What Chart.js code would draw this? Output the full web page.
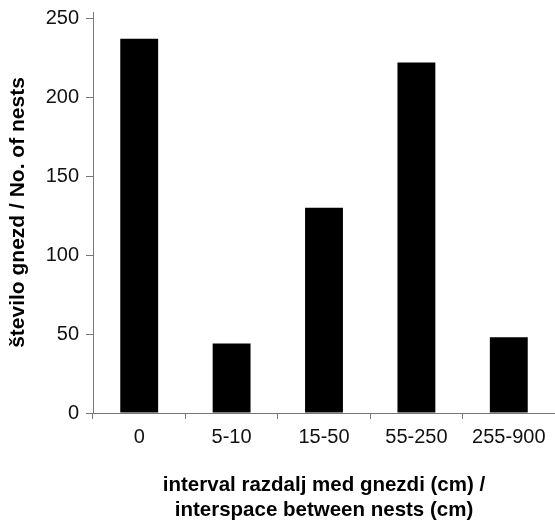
<!DOCTYPE html>
<html>
<head>
<meta charset="utf-8">
<script src="https://cdn.jsdelivr.net/npm/chart.js@4/dist/chart.umd.min.js"></script>
<style>
  html, body { margin: 0; padding: 0; background: #fff; }
  #wrap { width: 555px; height: 520px; }
</style>
</head>
<body>
<div id="wrap"><canvas id="chartCanvas" width="555" height="520"></canvas></div>
<script>
const categories = ['0', '5-10', '15-50', '55-250', '255-900'];
const nestCounts = [237, 44, 130, 222, 48];
const yTicks = [0, 50, 100, 150, 200, 250];

const fontFamily = '"Liberation Sans", Arial, sans-serif';

new Chart(document.getElementById('chartCanvas'), {
    type: 'bar',
    data: {
        labels: categories,
        datasets: [{
            data: nestCounts,
            backgroundColor: '#000',
            borderWidth: 0,
            categoryPercentage: 1,
            barPercentage: 0.41
        }]
    },
    options: {
        responsive: false,
        animation: false,
        layout: { padding: { top: 12, right: 0, left: 6, bottom: 0 } },
        plugins: { legend: { display: false }, tooltip: { enabled: false } },
        scales: {
            x: {
                grid: { drawOnChartArea: false, tickLength: 6, color: '#777', offset: true },
                border: { color: '#777', width: 1 },
                ticks: { color: '#111', font: { family: fontFamily, size: 20 }, padding: 6 },
                title: {
                    display: true,
                    text: ['interval razdalj med gnezdi (cm) /', 'interspace between nests (cm)'],
                    color: '#000',
                    font: { family: fontFamily, size: 20.5, weight: 'bold', lineHeight: '25px' },
                    padding: { top: 18, bottom: -3 }
                }
            },
            y: {
                min: 0,
                max: 254,
                afterBuildTicks: axis => { axis.ticks = yTicks.map(v => ({ value: v })); },
                afterFit: axis => { axis.width = 87; axis.paddingTop = 0; },
                grid: { drawOnChartArea: false, tickLength: 7, color: '#777' },
                border: { color: '#777', width: 1 },
                ticks: { color: '#111', font: { family: fontFamily, size: 20 }, padding: 7 },
                title: {
                    display: true,
                    text: 'število gnezd / No. of nests',
                    color: '#000',
                    font: { family: fontFamily, size: 21, weight: 'bold' },
                    padding: 0
                }
            }
        }
    }
});
</script>
</body>
</html>
